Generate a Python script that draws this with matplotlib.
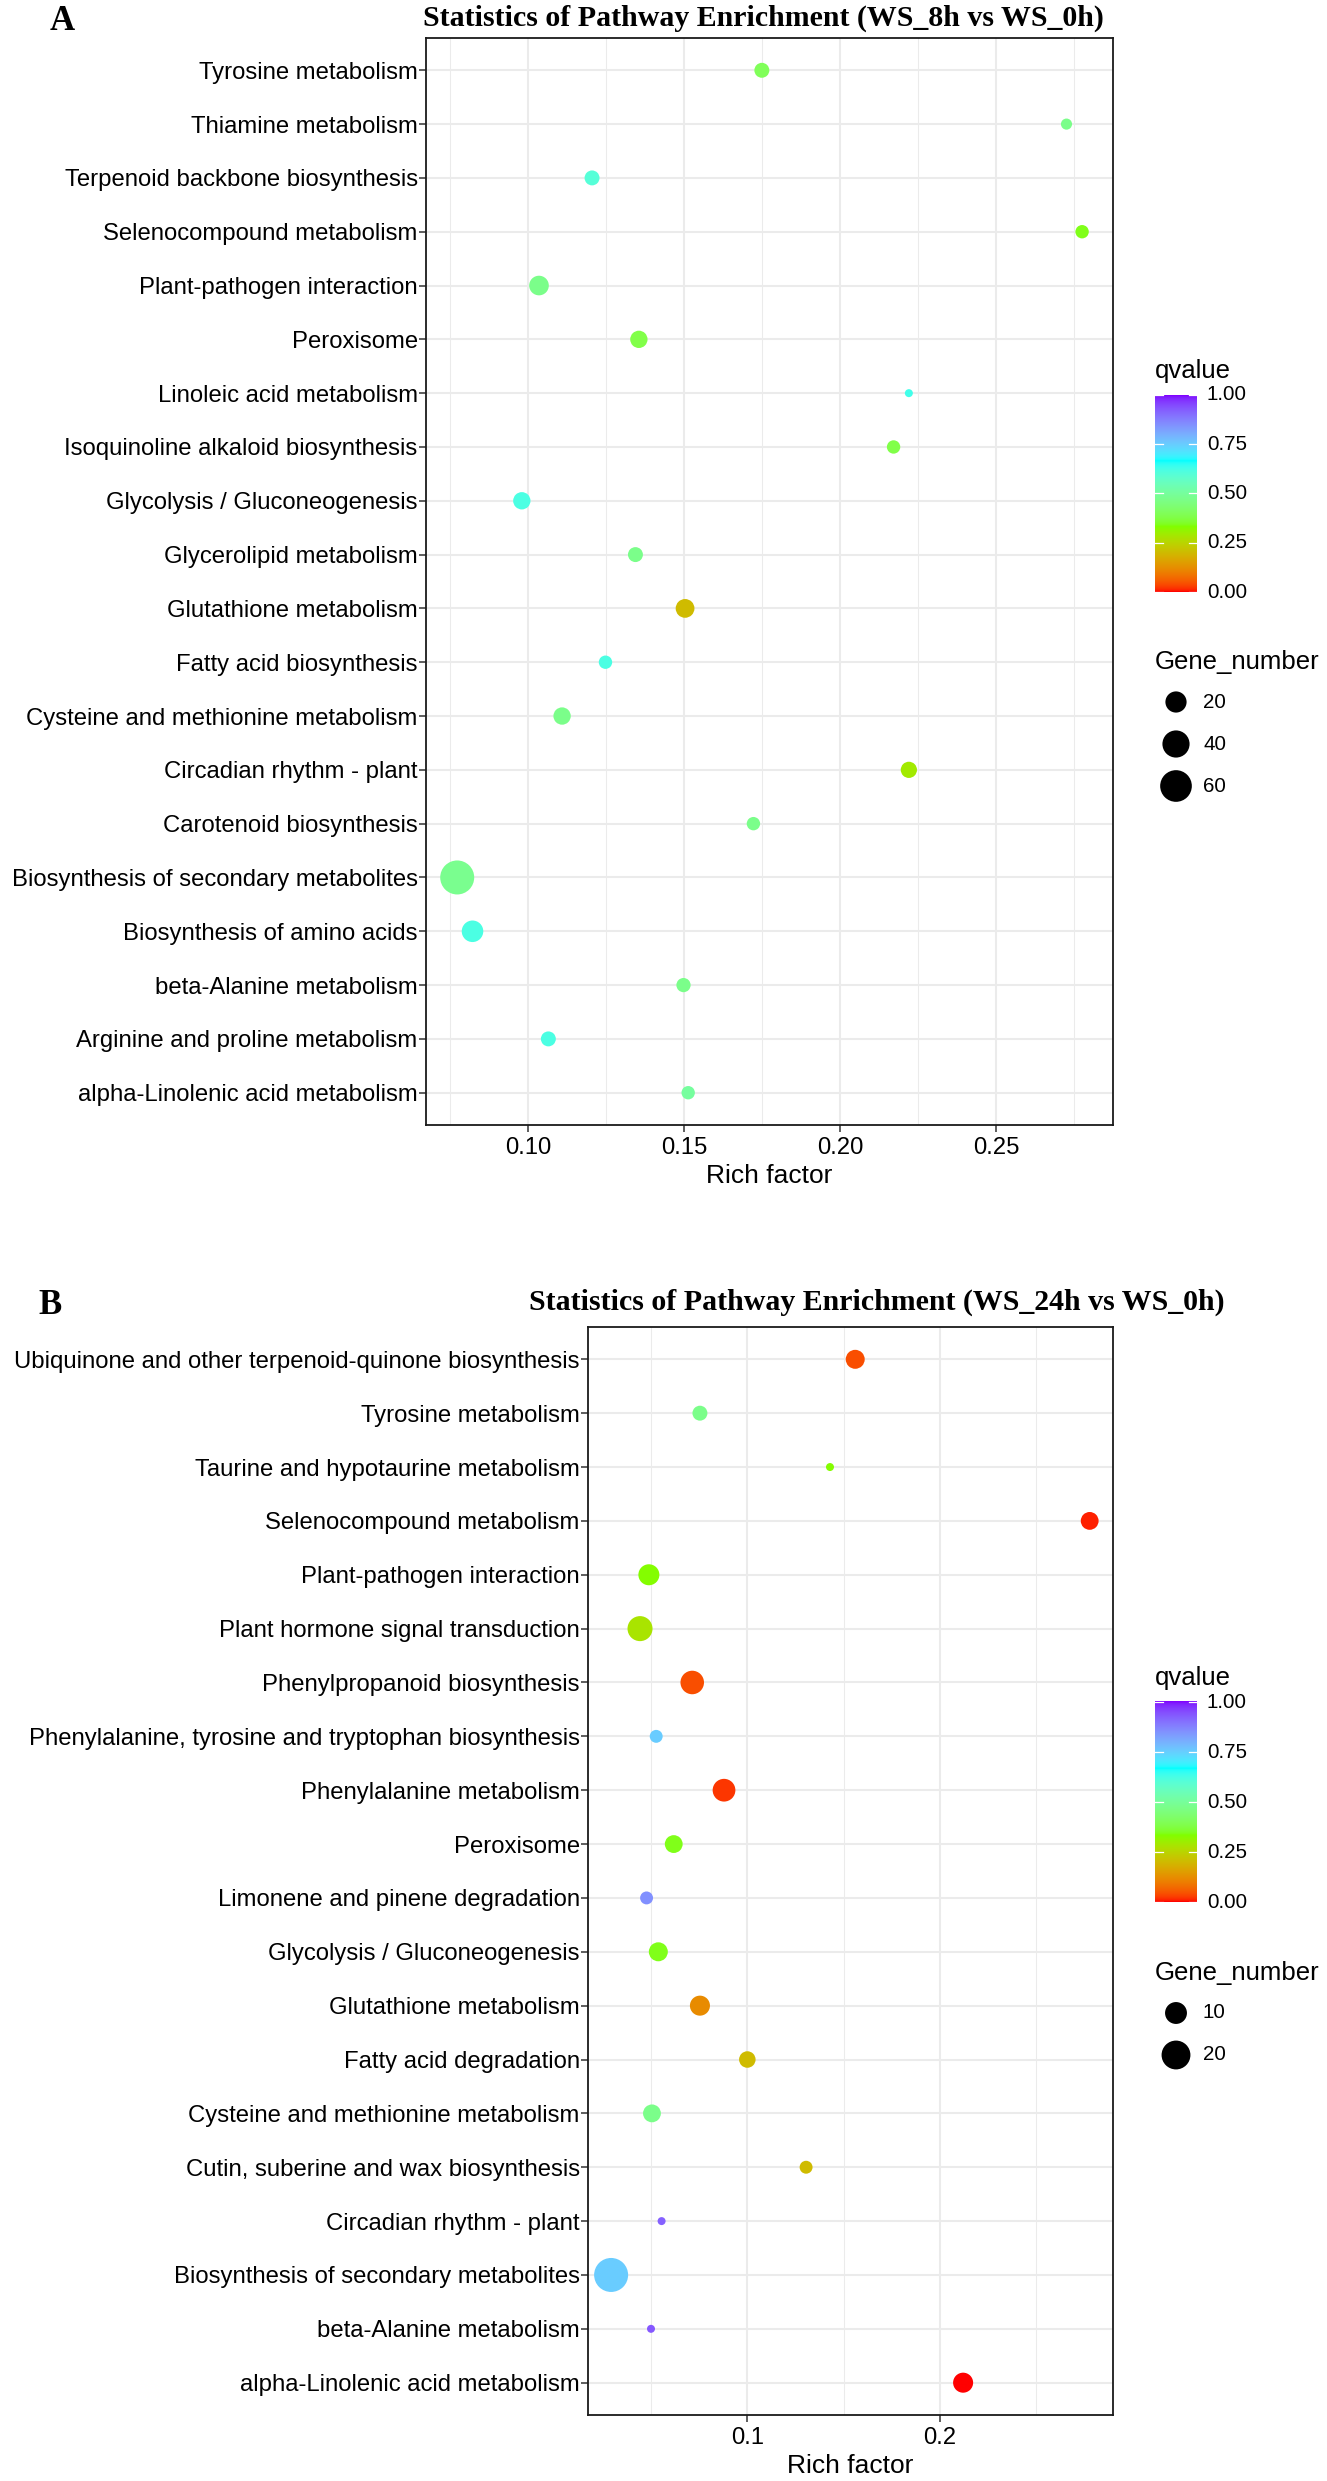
"""
KEGG pathway enrichment bubble plots (WS_8h vs WS_0h, WS_24h vs WS_0h).
Rich factor on x, pathway on y, colour = qvalue, size = Gene_number.
"""

import numpy as np
import matplotlib
matplotlib.use('Agg')
import matplotlib.pyplot as plt
from matplotlib.colors import ListedColormap
from matplotlib.ticker import MultipleLocator

# ─── Data: panel A (WS_8h vs WS_0h), top → bottom ─────────────────────────────
paths_a = [
    "Tyrosine metabolism", "Thiamine metabolism", "Terpenoid backbone biosynthesis",
    "Selenocompound metabolism", "Plant-pathogen interaction", "Peroxisome",
    "Linoleic acid metabolism", "Isoquinoline alkaloid biosynthesis",
    "Glycolysis / Gluconeogenesis", "Glycerolipid metabolism", "Glutathione metabolism",
    "Fatty acid biosynthesis", "Cysteine and methionine metabolism",
    "Circadian rhythm - plant", "Carotenoid biosynthesis",
    "Biosynthesis of secondary metabolites", "Biosynthesis of amino acids",
    "beta-Alanine metabolism", "Arginine and proline metabolism",
    "alpha-Linolenic acid metabolism",
]
rich_a  = [0.175, 0.2726, 0.1206, 0.2776, 0.1036, 0.1356, 0.2221, 0.2172, 0.0981, 0.1345,
           0.1504, 0.1249, 0.1110, 0.2221, 0.1723, 0.0774, 0.0823, 0.1499, 0.1066, 0.1514]
genes_a = [7, 3, 7, 5, 16, 11, 2, 5, 11, 7, 14, 5, 11, 9, 5, 72, 21, 6, 7, 5]
q_a     = [0.40, 0.47, 0.60, 0.34, 0.47, 0.38, 0.63, 0.38, 0.62, 0.47,
           0.20, 0.62, 0.47, 0.29, 0.47, 0.48, 0.62, 0.47, 0.62, 0.50]

# ─── Data: panel B (WS_24h vs WS_0h), top → bottom ────────────────────────────
paths_b = [
    "Ubiquinone and other terpenoid-quinone biosynthesis", "Tyrosine metabolism",
    "Taurine and hypotaurine metabolism", "Selenocompound metabolism",
    "Plant-pathogen interaction", "Plant hormone signal transduction",
    "Phenylpropanoid biosynthesis", "Phenylalanine, tyrosine and tryptophan biosynthesis",
    "Phenylalanine metabolism", "Peroxisome", "Limonene and pinene degradation",
    "Glycolysis / Gluconeogenesis", "Glutathione metabolism", "Fatty acid degradation",
    "Cysteine and methionine metabolism", "Cutin, suberine and wax biosynthesis",
    "Circadian rhythm - plant", "Biosynthesis of secondary metabolites",
    "beta-Alanine metabolism", "alpha-Linolenic acid metabolism",
]
rich_b  = [0.156, 0.0754, 0.1429, 0.2777, 0.0489, 0.0443, 0.0714, 0.0527, 0.0879, 0.0618,
           0.0477, 0.0538, 0.0754, 0.1000, 0.0505, 0.1305, 0.0555, 0.0293, 0.0500, 0.212]
genes_b = [7, 4, 2, 6, 9, 14, 12, 3, 11, 6, 3, 7, 8, 5, 6, 3, 2, 30, 2, 8]
q_b     = [0.04, 0.47, 0.33, 0.01, 0.33, 0.28, 0.04, 0.75, 0.02, 0.34,
           0.85, 0.34, 0.12, 0.20, 0.47, 0.20, 0.92, 0.75, 0.93, 0.00]

size_breaks_a = [20, 40, 60]
size_breaks_b = [10, 20]
q_breaks = [0.00, 0.25, 0.50, 0.75, 1.00]

W, H = 1327, 2481
SANS = 'Liberation Sans'
SERIF = 'Liberation Serif'
TICK_FS = 17.2


# ─── rainbow(4) gradient interpolated in Lab (ggplot gradientn style) ─────────
def _srgb_to_lab(rgb):
    rgb = np.asarray(rgb, float)
    lin = np.where(rgb <= 0.04045, rgb / 12.92, ((rgb + 0.055) / 1.055) ** 2.4)
    M = np.array([[0.4124, 0.3576, 0.1805],
                  [0.2126, 0.7152, 0.0722],
                  [0.0193, 0.1192, 0.9505]])
    xyz = lin @ M.T / np.array([0.95047, 1.0, 1.08883])
    f = np.where(xyz > 0.008856, np.cbrt(xyz), 7.787 * xyz + 16 / 116)
    return np.stack([116 * f[..., 1] - 16,
                     500 * (f[..., 0] - f[..., 1]),
                     200 * (f[..., 1] - f[..., 2])], axis=-1)


def _lab_to_srgb(lab):
    L, a, b = lab[..., 0], lab[..., 1], lab[..., 2]
    fy = (L + 16) / 116
    fx = fy + a / 500
    fz = fy - b / 200
    f = np.stack([fx, fy, fz], axis=-1)
    xyz = np.where(f ** 3 > 0.008856, f ** 3, (f - 16 / 116) / 7.787)
    xyz = xyz * np.array([0.95047, 1.0, 1.08883])
    Minv = np.array([[3.2406, -1.5372, -0.4986],
                     [-0.9689, 1.8758, 0.0415],
                     [0.0557, -0.2040, 1.0570]])
    lin = np.clip(xyz @ Minv.T, 0, 1)
    rgb = np.where(lin <= 0.0031308, 12.92 * lin, 1.055 * lin ** (1 / 2.4) - 0.055)
    return np.clip(rgb, 0, 1)


def lab_cmap(hexes, n=256):
    anchors = np.array([[int(h[i:i + 2], 16) / 255 for i in (1, 3, 5)] for h in hexes])
    labs = _srgb_to_lab(anchors)
    pos = np.linspace(0, 1, len(hexes))
    t = np.linspace(0, 1, n)
    out = np.stack([np.interp(t, pos, labs[:, k]) for k in range(3)], axis=-1)
    return ListedColormap(_lab_to_srgb(out))


CMAP = lab_cmap(['#FF0000', '#80FF00', '#00FFFF', '#8000FF'])


# ─── size scale (area-like, rescaled between data min and max) ────────────────
def dot_px(n, lo, hi):
    t = (np.asarray(n, float) - lo) / (hi - lo)
    return 8 + 26 * np.sqrt(np.clip(t, 0, None))


def px2pt(px):
    return px * 72 / 100


def frac(x0, y0, x1, y1):
    return [x0 / W, 1 - y1 / H, (x1 - x0) / W, (y1 - y0) / H]


# ─── One bubble panel ─────────────────────────────────────────────────────────
def bubble_panel(fig, rect, paths, rich, genes, q, xlim, major, minor):
    ax = fig.add_axes(rect)
    n = len(paths)
    ypos = np.arange(n)[::-1]
    lo, hi = min(genes), max(genes)
    s = px2pt(dot_px(genes, lo, hi)) ** 2
    ax.scatter(rich, ypos, s=s, c=q, cmap=CMAP, vmin=0, vmax=1,
               edgecolors='none', zorder=3)
    ax.set_xlim(*xlim)
    ax.set_ylim(-0.6, n - 0.4)
    ax.set_yticks(ypos)
    ax.set_yticklabels(paths, fontsize=TICK_FS, family=SANS, color='black')
    ax.xaxis.set_major_locator(MultipleLocator(major))
    ax.xaxis.set_minor_locator(MultipleLocator(minor))
    ax.grid(which='major', color='#EBEBEB', linewidth=1.5, zorder=0)
    ax.grid(which='minor', axis='x', color='#EBEBEB', linewidth=0.75, zorder=0)
    ax.set_axisbelow(True)
    ax.tick_params(which='major', length=5, width=1.1, color='#333333',
                   labelsize=TICK_FS)
    ax.tick_params(axis='x', pad=4)
    ax.tick_params(axis='y', pad=1)
    ax.tick_params(which='minor', length=0)
    for lab in ax.get_xticklabels():
        lab.set_family(SANS)
    for sp in ax.spines.values():
        sp.set_color('#1a1a1a')
        sp.set_linewidth(1.3)
    ax.set_xlabel('Rich factor', fontsize=19, family=SANS, labelpad=3)
    return ax, lo, hi


def colorbar_legend(fig, ov, x0, top, bottom):
    # top/bottom: pixel rows of the 1.00 and 0.00 ticks
    span = bottom - top
    cax = fig.add_axes(frac(x0, top - 0.012 * span, x0 + 42, bottom + 0.012 * span))
    grad = np.linspace(0, 1, 256).reshape(-1, 1)
    cax.imshow(grad, cmap=CMAP, aspect='auto', origin='lower',
               extent=[0, 1, 0, 1])
    cax.set_xlim(0, 1)
    cax.set_ylim(-0.012, 1.012)
    cax.axis('off')
    for v in q_breaks:
        cax.plot([0, 0.2], [v, v], color='white', lw=0.9)
        cax.plot([0.8, 1], [v, v], color='white', lw=0.9)
        ov.text(x0 + 52, bottom - v * span, f'{v:.2f}', fontsize=14.8,
                family=SANS, va='center', ha='left')
    ov.text(x0, top - 24, 'qvalue', fontsize=18.5, family=SANS,
            va='center', ha='left')


def size_legend(ov, x0, title_y, breaks, lo, hi):
    ov.text(x0, title_y, 'Gene_number', fontsize=18.5, family=SANS,
            va='center', ha='left')
    for i, b in enumerate(breaks):
        yy = title_y + 40 + 42 * i
        ov.scatter([x0 + 21], [yy], s=px2pt(dot_px(b, lo, hi)) ** 2,
                   color='black', edgecolors='none')
        ov.text(x0 + 48, yy, str(b), fontsize=14.8, family=SANS,
                va='center', ha='left')


# ─── Figure ───────────────────────────────────────────────────────────────────
fig = plt.figure(figsize=(W / 100, H / 100), dpi=100)
fig.patch.set_facecolor('white')

ax_a, lo_a, hi_a = bubble_panel(fig, frac(426, 38, 1113, 1125), paths_a, rich_a,
                                genes_a, q_a, (0.0674, 0.2875), 0.05, 0.025)
ax_b, lo_b, hi_b = bubble_panel(fig, frac(588, 1327, 1113, 2415), paths_b, rich_b,
                                genes_b, q_b, (0.0173, 0.2898), 0.1, 0.05)

ov = fig.add_axes([0, 0, 1, 1])
ov.set_xlim(0, W)
ov.set_ylim(H, 0)
ov.axis('off')
ov.patch.set_visible(False)

ov.text(763, 18, 'Statistics of Pathway Enrichment (WS_8h vs WS_0h)',
        fontsize=21.5, family=SERIF, weight='bold', ha='center', va='center')
ov.text(877, 1302, 'Statistics of Pathway Enrichment (WS_24h vs WS_0h)',
        fontsize=21.5, family=SERIF, weight='bold', ha='center', va='center')
ov.text(50, 22, 'A', fontsize=25, family=SERIF, weight='bold', ha='left', va='center')
ov.text(38, 1305, 'B', fontsize=25, family=SERIF, weight='bold', ha='left', va='center')

colorbar_legend(fig, ov, 1155, 395, 592)
size_legend(ov, 1155, 662, size_breaks_a, lo_a, hi_a)
colorbar_legend(fig, ov, 1155, 1702, 1902)
size_legend(ov, 1155, 1973, size_breaks_b, lo_b, hi_b)

fig.savefig('out.png', dpi=100, facecolor='white')
